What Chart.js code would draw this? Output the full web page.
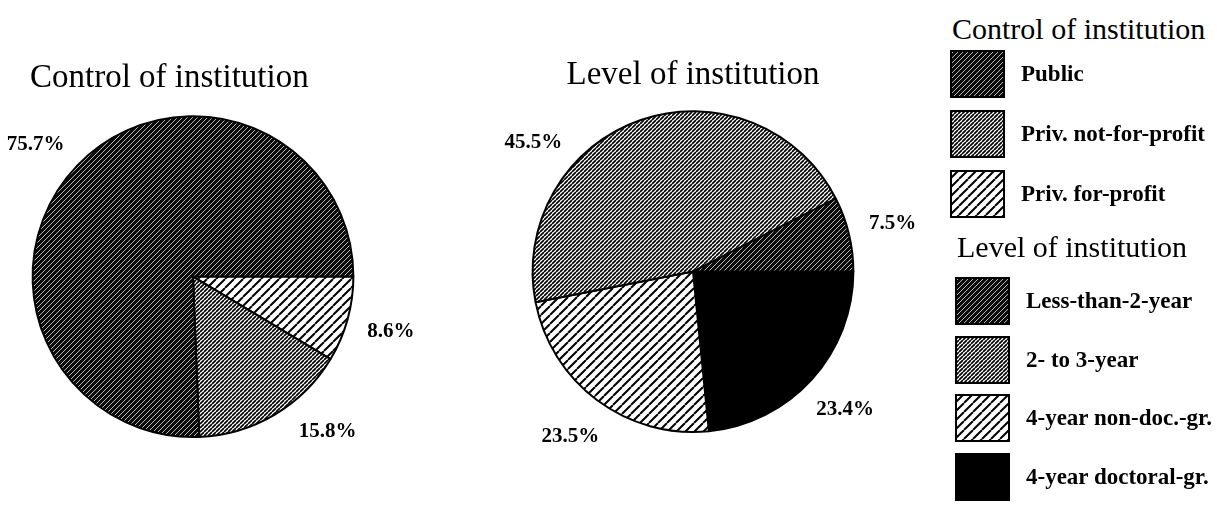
<!DOCTYPE html>
<html>
<head>
<meta charset="utf-8">
<script src="https://cdn.jsdelivr.net/npm/chart.js@4.4.1/dist/chart.umd.min.js"></script>
<style>
body { margin: 0; background: #fff; width: 1217px; height: 506px; overflow: hidden; position: relative; font-family: 'Liberation Serif', 'Times New Roman', serif; color: #000; }
#controlWrap { position: absolute; left: 0; top: 0; width: 440px; height: 506px; }
#levelWrap { position: absolute; left: 460px; top: 0; width: 470px; height: 506px; }
#legend { position: absolute; left: 950px; top: 12px; width: 267px; }
.head { font-size: 30px; line-height: 34px; height: 34px; white-space: nowrap; }
.row { display: flex; align-items: center; height: 48px; white-space: nowrap; font-weight: bold; font-size: 23px; }
.row canvas { margin-right: 16px; }
#ctrlRows .row { margin-bottom: 12px; }
#ctrlHead { margin-left: 2px; margin-bottom: 4px; }
#levHead { margin-top: 10px; margin-left: 7px; margin-bottom: 13px; }
#levRows { margin-left: 5px; }
#levRows .row { margin-bottom: 10.5px; }
</style>
</head>
<body>
<div id="controlWrap"><canvas id="controlPie"></canvas></div>
<div id="levelWrap"><canvas id="levelPie"></canvas></div>
<div id="legend">
  <div class="head" id="ctrlHead">Control of institution</div>
  <div id="ctrlRows"></div>
  <div class="head" id="levHead">Level of institution</div>
  <div id="levRows"></div>
</div>
<script>
// shares in percent
const controlLabels = ['Public', 'Priv. not-for-profit', 'Priv. for-profit'];
const controlShares = [75.7, 15.8, 8.6];

const levelLabels = ['Less-than-2-year', '2- to 3-year', '4-year non-doc.-gr.', '4-year doctoral-gr.'];
const levelShares = [7.5, 45.5, 23.5, 23.4];

// diagonal hatch tiles like the printed fills
function hatchTile(bg, fg, step, width) {
  const c = document.createElement('canvas');
  c.width = step; c.height = step;
  const g = c.getContext('2d');
  g.fillStyle = bg;
  g.fillRect(0, 0, step, step);
  g.strokeStyle = fg;
  g.lineWidth = width;
  g.beginPath();
  for (let k = -1; k <= 1; k++) {
    g.moveTo(k * step, step);
    g.lineTo(k * step + step, 0);
  }
  g.stroke();
  return c;
}

const tiles = {
  dark: hatchTile('#0a0a0a', '#b8b8b8', 5, 1),
  fine: hatchTile('#fff', '#000', 4, 1.7),
  wide: hatchTile('#fff', '#000', 9, 2),
  solid: null
};

function fillFor(kind, ctx) {
  if (kind === 'solid') return '#000';
  return ctx.createPattern(tiles[kind], 'repeat');
}

const controlFills = ['dark', 'fine', 'wide'];
const levelFills = ['dark', 'fine', 'wide', 'solid'];

// percent labels just outside the pie
const pctLabels = {
  id: 'pctLabels',
  afterDatasetsDraw(chart, args, opts) {
    const ctx = chart.ctx;
    const meta = chart.getDatasetMeta(0);
    const vals = chart.data.datasets[0].data;
    const names = chart.data.labels;
    ctx.save();
    ctx.font = 'bold 21px "Liberation Serif"';
    ctx.fillStyle = '#000';
    ctx.textAlign = 'center';
    ctx.textBaseline = 'middle';
    meta.data.forEach((arc, i) => {
      const p = arc.getProps(['x', 'y', 'startAngle', 'endAngle', 'outerRadius'], true);
      const over = opts.angles ? opts.angles[names[i]] : undefined;
      const a = over !== undefined ? (over - 90) * Math.PI / 180 : (p.startAngle + p.endAngle) / 2;
      const d = p.outerRadius * opts.dist;
      ctx.fillText(vals[i].toFixed(1) + '%', p.x + Math.cos(a) * d, p.y + Math.sin(a) * d);
    });
    ctx.restore();
  }
};

function makePie(id, title, labels, shares, fills, pad, titlePad, align, angles) {
  const el = document.getElementById(id);
  const ctx = el.getContext('2d');
  // the original runs counter-clockwise from 3 o'clock, so feed it reversed
  const l = labels.slice().reverse();
  const s = shares.slice().reverse();
  const f = fills.slice().reverse().map(k => fillFor(k, ctx));
  return new Chart(el, {
    type: 'pie',
    data: {
      labels: l,
      datasets: [{
        data: s,
        backgroundColor: f,
        borderColor: '#000',
        borderWidth: 2
      }]
    },
    options: {
      responsive: true,
      maintainAspectRatio: false,
      animation: false,
      rotation: 90,
      layout: { padding: pad },
      plugins: {
        legend: { display: false },
        tooltip: { enabled: false },
        title: {
          display: true,
          text: title,
          align: align,
          color: '#000',
          font: { family: 'Liberation Serif', size: 33, weight: 'normal', lineHeight: 1.2 },
          padding: titlePad
        },
        pctLabels: { dist: 1.28, angles: angles }
      }
    },
    plugins: [pctLabels]
  });
}

makePie('controlPie', 'Control of institution', controlLabels, controlShares, controlFills,
  { left: 30, right: 84, top: 48, bottom: 68 }, { top: 10.8, bottom: 16.8 }, 'start',
  { 'Public': 310, 'Priv. not-for-profit': 139 });

makePie('levelPie', 'Level of institution', levelLabels, levelShares, levelFills,
  { left: 71, right: 75, top: 45, bottom: 73 }, { top: 10.8, bottom: 14.8 }, 'center',
  { '2- to 3-year': 309 });

// legend with swatches painted from the same tiles
function legendRows(hostId, labels, fills) {
  const host = document.getElementById(hostId);
  labels.forEach((name, i) => {
    const row = document.createElement('div');
    row.className = 'row';
    const sw = document.createElement('canvas');
    sw.width = 55; sw.height = 48;
    const g = sw.getContext('2d');
    g.fillStyle = fillFor(fills[i], g);
    g.fillRect(0, 0, 55, 48);
    g.strokeStyle = '#000';
    g.lineWidth = 2;
    g.strokeRect(1, 1, 53, 46);
    const txt = document.createElement('span');
    txt.textContent = name;
    row.appendChild(sw);
    row.appendChild(txt);
    host.appendChild(row);
  });
}

legendRows('ctrlRows', controlLabels, controlFills);
legendRows('levRows', levelLabels, levelFills);
</script>
</body>
</html>
